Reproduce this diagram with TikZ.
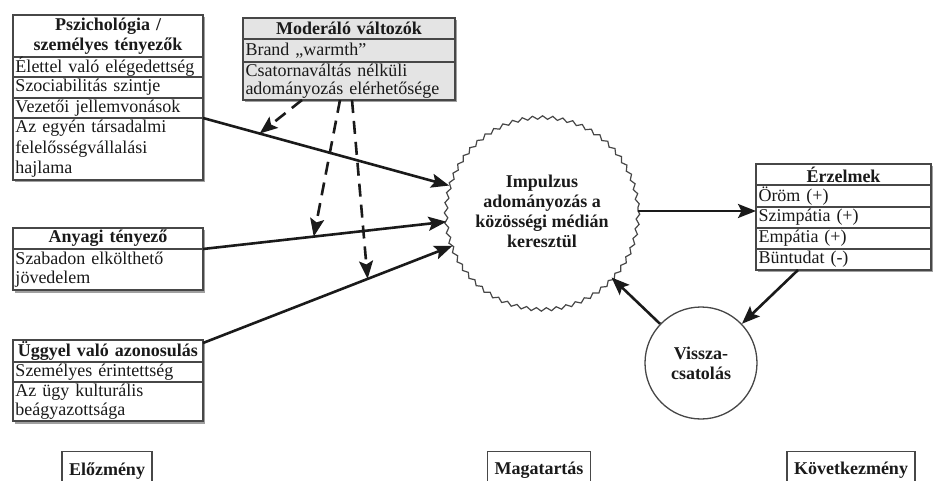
\documentclass[tikz,border=0pt]{standalone}
\usepackage{fontspec}
\setmainfont{Liberation Serif}
\usetikzlibrary{arrows.meta,decorations.pathmorphing,calc}
\pgfdeclarelayer{bg}
\pgfsetlayers{bg,main}
\definecolor{ink}{HTML}{1A1A1A}
\definecolor{boxgray}{HTML}{474747}
\definecolor{modfill}{HTML}{E4E4E4}
\definecolor{shade}{HTML}{A0A0A0}
\begin{document}
\begin{tikzpicture}[x=1pt,y=-1pt,
  cell/.style={draw=boxgray, fill=white, line width=1.3pt, anchor=north west, outer sep=0pt,
    inner xsep=2.5pt, inner ysep=0pt, align=left, text=ink, font=\fontsize{18}{19}\selectfont},
  headcell/.style={cell, align=center, font=\bfseries\fontsize{18}{20}\selectfont},
  arr/.style={line width=2.6pt, draw=ink, -{Stealth[length=18pt,width=14pt,inset=3.5pt]}},
  darr/.style={arr, dash pattern=on 13pt off 8pt},
  lab/.style={draw=boxgray, line width=1.3pt, anchor=north, font=\bfseries\fontsize{18}{20}\selectfont,
    text=ink, inner xsep=7pt, minimum height=38pt},
  shadowbox/.style={fill=shade}
]
\useasboundingbox (0,0) rectangle (940,481);

% Box 1
\node[headcell, text width=185pt, minimum height=42pt] (p0) at (13,15) {Pszichológia /\\személyes tényezők};
\node[cell, text width=185pt, minimum height=20pt] (p1) at (13,57) {Élettel való elégedettség};
\node[cell, text width=185pt, minimum height=21pt] (p2) at (13,77) {Szociabilitás szintje};
\node[cell, text width=185pt, minimum height=20pt] (p3) at (13,98) {Vezetői jellemvonások};
\node[cell, text width=185pt, minimum height=62pt, font=\fontsize{18}{20.5}\selectfont] (p4) at (13,118) {Az egyén társadalmi\\felelősségvállalási\\hajlama};

% Box 2 (moderators)
\node[headcell, fill=modfill, text width=207pt, minimum height=21pt] (o0) at (243,18) {Moderáló változók};
\node[cell, fill=modfill, text width=207pt, minimum height=23pt] (o1) at (243,39) {Brand „warmth”};
\node[cell, fill=modfill, text width=207pt, minimum height=38pt, font=\fontsize{18}{18}\selectfont] (o2) at (243,62) {Csatornaváltás nélküli\\adományozás elérhetősége};

% Box 3
\node[headcell, text width=185pt, minimum height=21pt] (a0) at (13,228) {Anyagi tényező};
\node[cell, text width=185pt, minimum height=41pt, font=\fontsize{18}{18.5}\selectfont] (a1) at (13,249) {Szabadon elkölthető\\jövedelem};

% Box 4
\node[headcell, text width=185pt, minimum height=22pt] (u0) at (13,340) {Üggyel való azonosulás};
\node[cell, text width=185pt, minimum height=20pt] (u1) at (13,362) {Személyes érintettség};
\node[cell, text width=185pt, minimum height=39pt, font=\fontsize{18}{18.5}\selectfont] (u2) at (13,382) {Az ügy kulturális\\beágyazottsága};

% Box 5
\node[headcell, text width=170pt, minimum height=21pt] (e0) at (756,164) {Érzelmek};
\node[cell, text width=170pt, minimum height=22pt] (e1) at (756,185) {Öröm (+)};
\node[cell, text width=170pt, minimum height=21pt] (e2) at (756,207) {Szimpátia (+)};
\node[cell, text width=170pt, minimum height=21pt] (e3) at (756,228) {Empátia (+)};
\node[cell, text width=170pt, minimum height=21pt] (e4) at (756,249) {Büntudat (-)};

% shadows
\begin{pgfonlayer}{bg}
\fill[shadowbox] ([shift={(2pt,-2.5pt)}]p0.north west) rectangle ([shift={(2pt,-2.5pt)}]p4.south east);
\fill[shadowbox] ([shift={(2pt,-2.5pt)}]o0.north west) rectangle ([shift={(2pt,-2.5pt)}]o2.south east);
\fill[shadowbox] ([shift={(2pt,-2.5pt)}]a0.north west) rectangle ([shift={(2pt,-2.5pt)}]a1.south east);
\fill[shadowbox] ([shift={(2pt,-2.5pt)}]u0.north west) rectangle ([shift={(2pt,-2.5pt)}]u2.south east);
\fill[shadowbox] ([shift={(2pt,-2.5pt)}]e0.north west) rectangle ([shift={(2pt,-2.5pt)}]e4.south east);
\end{pgfonlayer}

% central wavy circle
\node[circle, minimum size=192pt, inner sep=0pt, align=center, text=ink,
  font=\bfseries\fontsize{18}{20}\selectfont] (imp) at (542,211) {Impulzus\\adományozás a\\közösségi médián\\keresztül};
\draw[boxgray, line width=1.2pt, decorate, decoration={snake, amplitude=1.7pt, segment length=10.053pt}] (imp.center) circle (96);

% feedback circle
\node[circle, draw=boxgray, line width=1.3pt, minimum size=112pt, inner sep=0pt, align=center, text=ink,
  font=\bfseries\fontsize{18}{20}\selectfont] (vis) at (701,363) {\raisebox{-4pt}{\parbox{80pt}{\centering Vissza-\\csatolás}}};

% bottom labels
\node[lab] (l1) at (107,451) {Előzmény};
\node[lab] (l2) at (539,451) {Magatartás};
\node[lab] (l3) at (851,451) {Következmény};

% main arrows
\draw[arr] (p3.south east) -- (imp);
\draw[arr] (a0.south east) -- (imp);
\draw[arr] ([yshift=-3pt]u0.north east) -- (imp);
\draw[arr] (imp.east) -- (imp.east -| e0.west);
\draw[arr] ([xshift=42pt]e4.south west) -- (vis);
\draw[arr] (vis) -- (imp);

% points on main arrows for moderators
\path (p3.south east) -- (imp) coordinate[pos=0.23] (m1);
\path (a0.south east) -- (imp) coordinate[pos=0.455] (m2);
\path ([yshift=-3pt]u0.north east) -- (imp) coordinate[pos=0.66] (m3);

% dashed moderator arrows
\draw[darr] ([xshift=59pt]o2.south west) -- (m1);
\draw[darr] ([xshift=97pt]o2.south west) -- (m2);
\draw[darr] ([xshift=109pt]o2.south west) -- (m3);
\end{tikzpicture}
\end{document}
